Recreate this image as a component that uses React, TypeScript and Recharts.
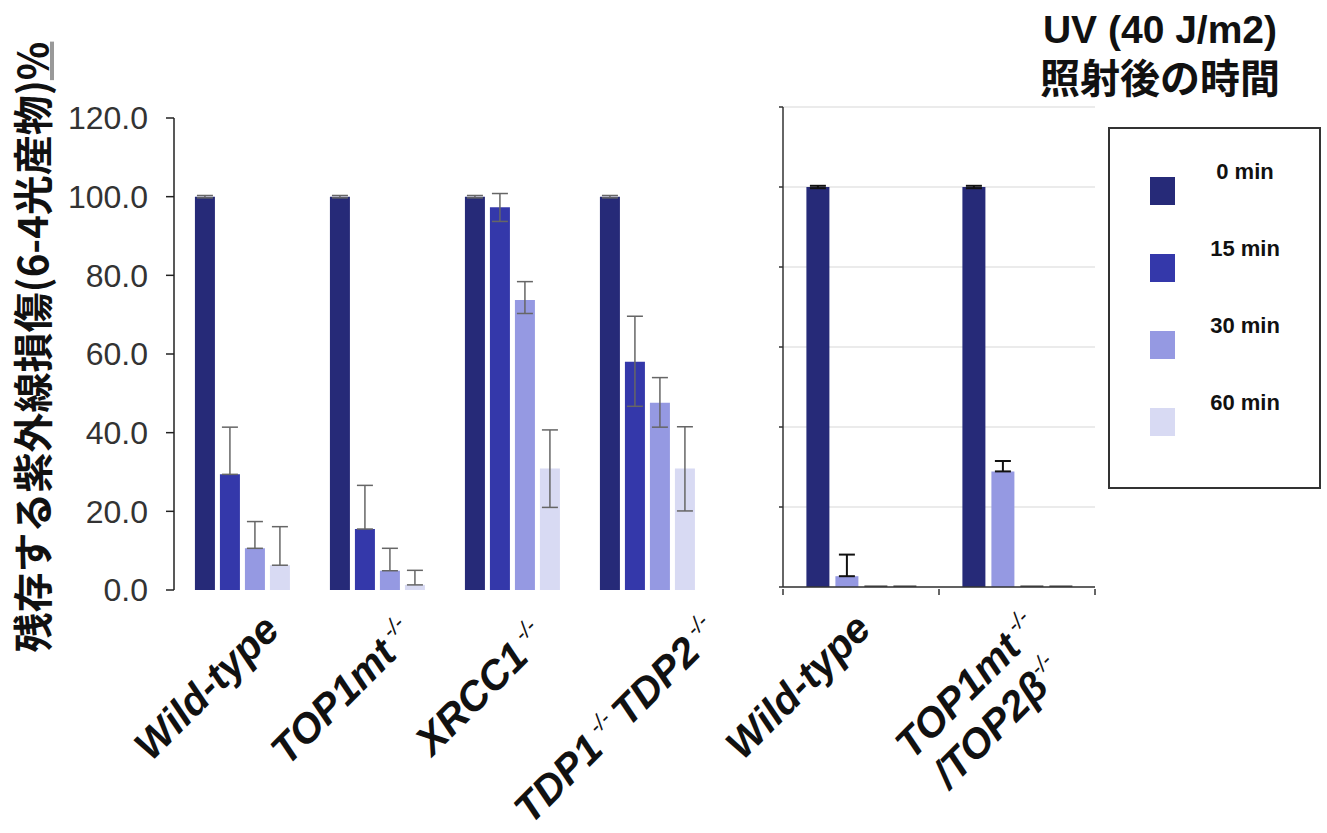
import React from "react";
import { BarChart, Bar, XAxis, YAxis, ErrorBar, CartesianGrid } from "recharts";

// left panel: four cell lines, four time points after UV
const groupsLeft = ["Wild-type", "TOP1mt", "XRCC1", "TDP1/TDP2"];
const min0 = [100, 100, 100, 100];
const min15 = [29.4, 15.5, 97.3, 58.0];
const min30 = [10.6, 4.9, 73.7, 47.6];
const min60 = [6.3, 1.3, 30.9, 30.9];
const err0 = [[0.3, 0.3], [0.3, 0.3], [0.3, 0.3], [0.3, 0.3]];
const err15 = [[0, 12.0], [0, 11.1], [3.6, 3.5], [11.3, 11.6]];
const err30 = [[0, 6.8], [0, 5.7], [3.4, 4.7], [6.2, 6.4]];
const err60 = [[0, 9.8], [0, 3.7], [9.9, 9.8], [10.8, 10.6]];

// right panel
const groupsRight = ["Wild-type", "TOP1mt/TOP2b"];
const r0 = [100, 100];
const r15 = [2.7, 28.9];
const r30 = [0.4, 0.4];
const r60 = [0.4, 0.4];
const rErr0 = [[0.3, 0.3], [0.3, 0.3]];
const rErr15 = [[0, 5.4], [0, 2.6]];

const yTicks = [0, 20, 40, 60, 80, 100, 120];
const seriesNames = ["0 min", "15 min", "30 min", "60 min"];
const colors = ["#262a78", "#3438aa", "#9599e2", "#d8daf3"];
const rightColors = ["#262a78", "#9599e2", "#555555", "#555555"];

// tick label pieces: [text, superscript?]
const leftTickLines: [string, boolean][][][] = [
  [[["Wild-type", false]]],
  [[["TOP1mt", false], [" -/-", true]]],
  [[["XRCC1", false], [" -/-", true]]],
  [[["TDP1", false], [" -/- ", true], ["TDP2", false], [" -/-", true]]],
];
const rightTickLines: [string, boolean][][][] = [
  [[["Wild-type", false]]],
  [
    [["TOP1mt", false], [" -/-", true]],
    [["/TOP2\u03b2", false], ["-/-", true]],
  ],
];
// hand placed label nudges (the labels in the original are loose text boxes)
const leftNudge = [[-6, -8], [-5, -3], [-8, 0], [29, -5]];
const rightNudge = [[4, 0], [17, 0]];

const leftData = groupsLeft.map((g, i) => ({
  name: g,
  t0: min0[i],
  t15: min15[i],
  t30: min30[i],
  t60: min60[i],
  e0: err0[i],
  e15: err15[i],
  e30: err30[i],
  e60: err60[i],
}));

const rightData = groupsRight.map((g, i) => ({
  name: g,
  t0: r0[i],
  t15: r15[i],
  t30: r30[i],
  t60: r60[i],
  e0: rErr0[i],
  e15: rErr15[i],
}));

const FONT = "'Liberation Sans', Arial, sans-serif";
const LABEL_SIZE = 41;

const renderLine = (segs: [string, boolean][]) => {
  let up = false;
  return segs.map(([t, sup], k) => {
    let dy = 0;
    if (sup && !up) dy = -LABEL_SIZE * 0.42;
    if (!sup && up) dy = LABEL_SIZE * 0.42;
    up = sup;
    return (
      <tspan
        key={k}
        dy={dy}
        fontSize={sup ? 22 : LABEL_SIZE}
        fontWeight={sup ? "normal" : "bold"}
      >
        {t}
      </tspan>
    );
  });
};

const makeTick = (
  lines: [string, boolean][][][],
  nudge: number[][],
  dx: number,
  dy: number,
  band: number,
  boundary: boolean
) =>
  (props: any) => {
    const { x, y, payload, index } = props;
    const idx = index ?? 0;
    const rows = lines[idx] || [[[String(payload.value), false]]];
    const [nx, ny] = nudge[idx] || [0, 0];
    return (
      <g>
        {boundary && <line x1={x - band / 2} x2={x - band / 2} y1={y} y2={y + 6} stroke="#333" strokeWidth={1.5} />}
        {boundary && idx === lines.length - 1 && (
          <line x1={x + band / 2} x2={x + band / 2} y1={y} y2={y + 6} stroke="#333" strokeWidth={1.5} />
        )}
        <g transform={`translate(${x + dx + nx},${y + dy + ny}) rotate(-45)`}>
          {rows.map((segs, r) => (
            <text
              key={r}
              x={-14 * r}
              y={47 * r}
              textAnchor="end"
              fontFamily={FONT}
              fontStyle="italic"
              fill="#111"
            >
              {renderLine(segs)}
            </text>
          ))}
        </g>
      </g>
    );
  };

const LEFT_W = 740;
const LEFT_M = { top: 118, right: 26, bottom: 0, left: 0 };
const LEFT_XH = 243;
const LEFT_YW = 174;
const RIGHT_W = 420;
const RIGHT_M = { top: 107, right: 25, bottom: 0, left: 0 };
const RIGHT_XH = 246;
const RIGHT_YW = 83;
const rightBand = (RIGHT_W - RIGHT_M.right - RIGHT_YW) / groupsRight.length;

export default function App() {
  return (
    <div style={{ position: "absolute", left: 0, top: 0, width: 1327, height: 833, background: "#fff", fontFamily: FONT }}>
      <div
        style={{
          position: "absolute",
          left: 31,
          top: 347,
          transform: "translate(-50%,-50%) rotate(-90deg)",
          whiteSpace: "nowrap",
          fontFamily: "'Noto Sans CJK JP', sans-serif",
          fontWeight: "bold",
          fontSize: 40,
          color: "#111",
        }}
      >
        残存する紫外線損傷(6-4光産物)
        <span style={{ textDecoration: "underline", textDecorationColor: "#999" }}>%</span>
      </div>

      <div style={{ position: "absolute", left: 0, top: 0 }}>
        <BarChart width={LEFT_W} height={833} data={leftData} margin={LEFT_M} barGap={5} barCategoryGap="15.5%">
          <YAxis
            width={LEFT_YW}
            domain={[0, 120]}
            ticks={yTicks}
            interval={0}
            tickFormatter={(v: number) => v.toFixed(1)}
            tick={{ fontSize: 32, fill: "#333", fontFamily: FONT }}
            tickSize={8}
            tickMargin={18}
            axisLine={{ stroke: "#222", strokeWidth: 1.5 }}
            tickLine={{ stroke: "#222", strokeWidth: 1.5 }}
          />
          <XAxis
            dataKey="name"
            axisLine={false}
            tickLine={false}
            interval={0}
            height={LEFT_XH}
            tick={makeTick(leftTickLines, leftNudge, 46, 42, 0, false)}
          />
          {["t0", "t15", "t30", "t60"].map((k, i) => (
            <Bar key={k} dataKey={k} name={seriesNames[i]} fill={colors[i]} isAnimationActive={false}>
              <ErrorBar dataKey={"e" + k.slice(1)} width={8} stroke="#666" strokeWidth={1.5} />
            </Bar>
          ))}
        </BarChart>
      </div>

      <div style={{ position: "absolute", left: 700, top: 0 }}>
        <BarChart width={RIGHT_W} height={833} data={rightData} margin={RIGHT_M} barGap={6} barCategoryGap="15%">
          <CartesianGrid vertical={false} stroke="#e4e4e4" strokeWidth={1.5} />
          <YAxis
            width={RIGHT_YW}
            domain={[0, 120]}
            ticks={yTicks}
            interval={0}
            tickFormatter={() => ""}
            tickSize={4}
            axisLine={{ stroke: "#333", strokeWidth: 1.5 }}
            tickLine={{ stroke: "#333", strokeWidth: 1.5 }}
          />
          <XAxis
            dataKey="name"
            axisLine={{ stroke: "#333", strokeWidth: 1.5 }}
            tickLine={false}
            tickSize={0}
            interval={0}
            height={RIGHT_XH}
            tick={makeTick(rightTickLines, rightNudge, 8, 42, rightBand, true)}
          />
          {["t0", "t15", "t30", "t60"].map((k, i) => (
            <Bar key={k} dataKey={k} name={seriesNames[i]} fill={rightColors[i]} isAnimationActive={false}>
              {i < 2 && <ErrorBar dataKey={"e" + k.slice(1)} width={8} stroke="#111" strokeWidth={2} />}
            </Bar>
          ))}
        </BarChart>
      </div>

      <div
        style={{
          position: "absolute",
          left: 1000,
          top: 7,
          width: 320,
          textAlign: "center",
          fontWeight: "bold",
          fontSize: 39,
          lineHeight: "46px",
          color: "#111",
          fontFamily: "'Liberation Sans', 'Noto Sans CJK JP', sans-serif",
        }}
      >
        <div>UV (40 J/m2)</div>
        <div style={{ fontFamily: "'Noto Sans CJK JP', sans-serif", fontSize: 40 }}>照射後の時間</div>
      </div>

      <div
        style={{
          position: "absolute",
          left: 1108,
          top: 127,
          width: 213,
          height: 362,
          border: "2px solid #333",
          boxSizing: "border-box",
        }}
      >
        {seriesNames.map((s, i) => (
          <React.Fragment key={s}>
            <div
              style={{
                position: "absolute",
                left: 40,
                top: 48 + i * 77,
                width: 25,
                height: 28,
                background: colors[i],
              }}
            />
            <div
              style={{
                position: "absolute",
                left: 85,
                top: 32 + i * 77,
                width: 100,
                textAlign: "center",
                fontSize: 22,
                lineHeight: "22px",
                fontWeight: "bold",
                color: "#111",
              }}
            >
              {s}
            </div>
          </React.Fragment>
        ))}
      </div>
    </div>
  );
}
